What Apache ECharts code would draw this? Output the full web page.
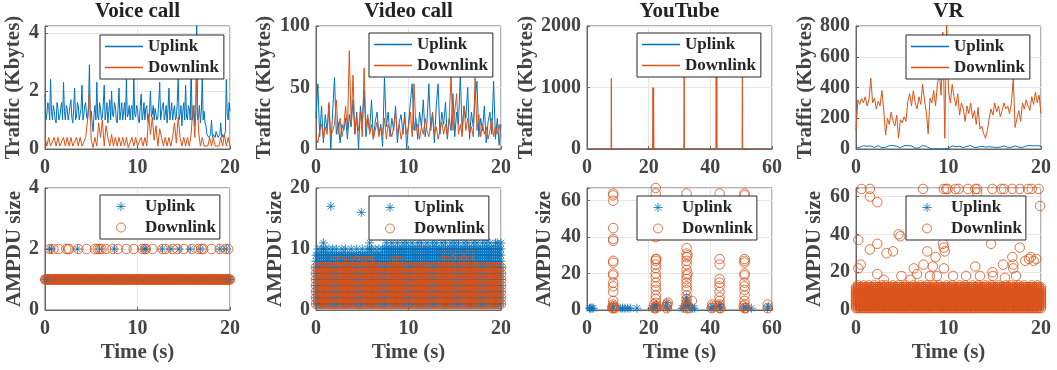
<!DOCTYPE html>
<html>
<head>
<meta charset="utf-8">
<script src="https://cdn.jsdelivr.net/npm/echarts@6/dist/echarts.min.js"></script>
<style>
  html, body { margin: 0; padding: 0; background: #fff; }
  #chart { width: 1057px; height: 370px; }
</style>
</head>
<body>
<div id="chart"></div>
<script>
// ---------------- data ----------------
const panelTitles = ['Voice call', 'Video call', 'YouTube', 'VR'];
const linkNames = ['Uplink', 'Downlink'];

// Traffic (Kbytes), one value per sampling step
const voiceUpStep = 0.1;
const voiceUpTraffic = [
  1.9,1.0,1.2,1.6,1.5,1.0,2.4,1.3,1.0,1.5,1.3,1.0,0.9,1.6,1.4,1.0,1.1,1.4,1.6,1.0,
  2.3,1.3,1.0,1.5,1.4,1.0,1.2,1.5,1.7,1.1,0.9,1.4,2.1,1.0,1.1,1.6,1.5,1.0,1.0,1.4,
  2.2,1.0,1.2,1.5,1.6,1.1,1.0,1.4,2.9,1.0,1.3,0.9,0.6,1.2,1.5,1.0,2.3,1.1,1.0,1.6,
  1.4,1.0,1.1,1.5,2.2,1.0,1.3,1.6,0.9,1.3,1.7,1.0,2.0,1.2,1.1,1.6,1.5,1.0,0.9,1.4,
  2.1,1.0,1.3,1.6,1.0,1.3,1.6,1.0,2.4,1.1,1.2,1.5,1.0,1.4,1.5,1.0,2.5,1.2,1.1,1.5,
  1.4,1.0,0.9,1.5,1.9,1.0,1.2,1.6,1.0,1.4,1.5,1.0,0.9,1.3,2.0,1.1,1.2,1.5,1.0,1.4,
  1.4,1.0,1.1,1.6,2.3,1.0,1.0,1.5,1.6,1.0,1.2,1.5,0.9,1.4,2.1,1.0,1.3,1.6,1.0,1.3,
  1.5,1.0,1.1,1.6,2.5,1.0,1.2,1.5,0.8,1.3,1.6,1.0,2.2,1.1,1.0,1.5,1.4,1.0,2.9,1.0,
  1.2,1.5,0.8,1.2,4.3,1.0,1.1,1.5,0.9,1.3,2.5,1.0,1.3,0.9,0.8,0.5,0.5,0.4,0.4,0.5,
  1.0,0.4,0.5,0.5,0.4,0.6,0.6,0.4,0.4,0.5,0.9,0.4,0.5,0.4,0.4,0.6,2.4,1.2,1.0,1.6,
  1.3
];
const trafficStep = 0.2;
const voiceDownTraffic = [
  0.4,0.1,0.4,0.1,0.1,0.4,0.1,0.4,0.1,0.1,
  0.4,0.1,0.4,0.1,0.4,0.1,0.1,0.4,0.1,0.4,
  0.1,0.05,0.4,1.0,2.0,0.3,0.05,0.4,0.1,0.9,
  0.4,1.0,0.1,0.8,0.4,0.1,0.5,0.1,0.4,0.1,
  0.4,0.1,0.4,0.1,0.4,0.05,0.1,0.4,0.1,0.4,
  0.1,0.05,0.4,0.1,0.4,0.1,1.2,0.5,1.1,0.3,
  0.8,0.1,0.7,0.4,0.1,0.4,0.1,0.4,0.1,0.4,
  0.9,0.2,1.1,0.4,0.1,0.4,0.1,0.4,0.1,0.5,
  1.5,0.4,2.4,0.6,0.1,0.4,0.1,0.05,0.1,0.4,
  0.1,0.4,0.1,0.05,0.1,0.4,0.1,0.5,0.1,0.4,
  0.1
];
const videoUpTraffic = [
  25,53,10,35,5,28,15,36,0,30,
  58,12,22,5,20,15,25,8,28,18,
  40,12,30,0,35,20,48,10,25,15,
  40,8,22,30,12,20,2,58,18,30,
  10,25,15,35,5,22,28,12,30,0,
  20,38,53,15,25,8,30,18,40,10,
  22,53,15,28,5,35,53,12,30,20,
  38,8,25,15,45,10,30,20,60,15,
  35,25,50,8,30,18,40,55,10,25,
  15,35,5,22,30,12,55,8,25,3,
  20
];
const videoDownTraffic = [
  10,5,15,20,8,18,12,38,10,15,
  20,40,12,25,10,18,35,15,80,20,
  60,12,25,15,30,10,66,18,28,12,
  20,8,15,22,10,18,12,25,8,20,
  15,10,18,30,12,20,8,15,25,12,
  18,30,10,53,15,20,8,18,12,25,
  15,10,20,30,12,18,8,15,22,12,
  20,10,25,60,15,30,45,12,20,10,
  35,15,25,12,18,10,58,15,28,10,
  20,12,18,8,15,25,10,18,12,20,
  10
];
const vrUpTraffic = [
  5,3,10,20,22,20,18,22,20,15,
  10,18,22,20,8,5,10,18,22,20,
  22,20,18,10,8,20,22,20,22,18,
  20,10,5,3,8,20,22,20,18,5,
  3,2,0,0,2,0,0,3,2,0,
  3,12,20,18,15,20,18,10,8,12,
  18,20,22,18,10,8,12,15,18,20,
  12,10,15,8,12,18,10,15,12,18,
  20,15,10,18,12,15,20,18,12,15,
  10,18,20,15,22,18,20,25,22,20,
  18
];
const vrDownTraffic = [
  120,320,290,330,300,340,280,320,460,300,
  330,260,310,280,380,250,90,200,160,240,
  180,150,220,70,190,170,210,180,310,360,
  280,380,300,260,340,290,420,320,240,100,
  330,300,380,280,420,500,350,760,70,820,
  380,300,420,340,280,360,220,300,260,180,
  280,230,300,200,250,160,270,130,150,100,
  70,120,200,260,220,300,240,280,210,250,
  300,260,280,230,300,460,140,200,250,180,
  300,260,320,280,250,340,290,370,300,350,
  230
];
// YouTube traffic is idle apart from short bursts
const ytUpTime     = [0, 24.9, 25, 25.1, 60];
const ytUpTraffic  = [0, 0, 20, 0, 0];
const ytDownTime    = [0, 7.8, 7.9, 8.0, 21.3, 21.4, 21.5, 21.6, 21.7, 31.4, 31.5, 31.6, 41.8, 41.9, 42.0, 42.1, 42.2, 50.3, 50.4, 50.5, 60];
const ytDownTraffic = [0, 0, 1150, 0, 0, 1000, 0, 990, 0, 0, 1250, 0, 0, 1300, 0, 1200, 0, 0, 1350, 0, 0];

// AMPDU sizes
// Voice call: size-1 frames in every frame slot, size-2 frames at these times
const voiceFrameStep = 0.1;
const voiceSpan = [0, 20];
const voiceUpSize2Times = [0.5,0.7,3.5,5.9,7.5,10.7,10.9,12.7,13.6,14.5,15.7,16.8,18.9,19.6];
const voiceDownSize2Times = [0.5,0.9,1.5,2.3,2.5,2.6,3.6,4.5,5.4,5.7,5.9,6.1,6.6,7.3,7.9,8.8,9.6,10.5,10.8,10.9,11.6,12.7,13.0,13.8,14.3,15.0,15.9,16.6,16.9,17.1,18.0,18.9,19.5,19.8];

// Video call / VR: every size from 1 up to the largest one seen in each slot
const ampduStep = 0.2;
const videoUpLargest = [
  9,10,9,10,11,10,9,10,9,10,
  9,10,9,9,10,9,10,9,9,10,
  9,9,10,9,9,10,9,9,10,11,
  10,9,10,9,10,9,10,10,11,10,
  10,11,10,10,11,10,10,11,10,11,
  10,10,11,10,10,11,10,11,10,10,
  11,10,10,11,10,11,10,10,11,10,
  11,10,10,11,10,11,10,11,10,10,
  11,10,11,10,10,11,10,11,10,10,
  11,10,11,10,11,10,10,11,11,10,
  11
];
const videoDownLargest = [
  7,7,7,7,7,7,7,7,7,7,
  8,7,7,8,8,7,7,7,7,7,
  8,7,8,8,7,8,7,8,8,8,
  7,7,7,7,7,7,7,7,7,7,
  7,7,8,7,8,7,8,7,7,7,
  7,7,7,7,7,7,7,7,7,7,
  7,7,7,7,7,7,7,7,7,8,
  7,9,7,7,7,7,7,9,7,7,
  8,7,7,9,7,7,7,7,7,7,
  7,7,7,7,7,7,7,7,7,7,
  7
];
const videoUpRareTime = [1.6, 4.9];
const videoUpRareSize = [17, 16];

const vrDownLargest = [
  12,13,12,12,13,12,12,13,12,12,
  13,12,12,12,13,12,13,12,12,12,
  13,12,12,13,12,12,12,13,12,12,
  12,13,12,12,12,13,12,12,13,12,
  12,12,13,12,12,13,12,12,12,13,
  12,12,13,12,12,12,13,12,12,13,
  12,12,12,13,12,12,13,12,12,12,
  13,12,12,13,12,12,12,13,12,12,
  12,13,12,12,13,12,12,12,13,12,
  12,13,12,12,12,13,12,12,13,12,
  12
];
const vrDownRareTime = [0.6,1.5,1.5,2.3,0.25,1.5,2.3,3.3,4.0,4.6,4.8,4.9,0.5,0.25,2.3,6.25,6.6,7.3,7.7,8.3,8.6,9.4,9.5,9.6,9.5,7.25,9.5,9.75,9.9,10.75,11.1,12.1,12.9,13.1,13.1,14.75,15.7,16.0,16.9,17.7,18.6,19.0,19.75,19.9,12.9,14.6,14.75,14.8,15.9,16.9,17.0,17.0,17.7,18.3,18.7,18.9,19.2,19.5,17.3,16.1,11.9,10.5,13.4,8.0,5.9,3.0,8.75];
const vrDownRareSize = [64,64,60,57,37,32,35,30,31,40,39,18,24,22,19,22,19,24,31,23,28,35,33,31,22,64,64,64,64,64,64,64,64,64,62,64,64,64,64,64,64,64,64,55,23,35,20,18,24,28,24,22,33,26,27,28,26,27,18,17,18,18,18,18,16,16,18];
const vrUpTime = [0.4,1.8,3.1,4.7,6.2,7.9,9.3,10.8,12.4,13.9,15.5,17.0,18.6,19.7];
const vrUpSize = [1,2,1,1,2,1,1,2,1,1,2,1,1,2];

// YouTube: [time (s), AMPDU size]
const ytUpAmpdu = [
  [0.8,1],[1.2,1],[1.6,1],[2.0,1],[8.3,1],[8.6,2],[10.8,1],[11.5,1],[12.3,1],[13.2,1],[14,1],[16.2,1],
  [21.0,1],[21.5,1],[22.0,2],[22.5,3],[22.8,1],[25.5,2],[25.9,4],[26.2,1],
  [30.8,1],[31.3,1],[31.8,2],[32.1,5],[32.3,7],[32.5,4],[32.8,3],[33.2,2],[33.7,1],[34.2,1],[34.8,1],
  [40.2,1],[40.8,2],[41.2,1],[42.8,2],[43.1,3],[43.4,1],[50.8,1],[51.3,2],[52.0,1],[53.3,1],[58.5,1],[58.8,2]
];
const ytDownAmpdu = [
  [8.5,64],[8.5,63],[8.5,60],[8.5,45],[8.5,39],[8.5,38],[8.5,27],[8.5,26],[8.5,20],[8.5,19],[8.5,15],[8.5,13],[8.5,10],[8.5,5],[8.5,3],[8.5,1],[8.2,1],[8.8,2],[9.0,1],[8.3,2],
  [22.3,67],[22.3,64],[22.3,44],[22.3,40],[22.3,28],[22.3,27],[22.3,25],[22.3,23],[22.3,20],[22.3,18],[22.3,15],[22.3,13],[22.3,11],[22.3,8],[22.3,6],[22.3,4],[22.3,2],[22.3,1],[22.0,1],[22.6,2],[21.8,3],[22.5,28],
  [25.8,1],[26.0,3],[26.2,4],[25.9,2],
  [32.3,64],[32.3,34],[32.3,31],[32.3,29],[32.3,27],[32.3,25],[32.3,22],[32.3,19],[32.3,17],[32.3,15],[32.3,13],[32.3,11],[32.3,8],[32.3,6],[32.3,4],[32.3,2],[32.3,1],[32.6,30],[32.6,20],[32.0,2],[34.0,5],[33.0,1],
  [40.5,1],[40.8,2],[40.6,3],
  [43.0,64],[43.0,28],[43.0,25],[43.0,17],[43.0,15],[43.0,13],[43.0,10],[43.0,7],[43.0,5],[43.0,3],[43.0,1],[42.7,2],[43.3,1],
  [51.1,64],[51.1,63],[51.1,28],[51.1,27],[51.1,26],[51.1,20],[51.1,19],[51.1,15],[51.1,13],[51.1,11],[51.1,8],[51.1,5],[51.1,3],[51.1,1],[50.8,2],[51.4,1],
  [58.6,3],[58.6,1]
];

// ---------------- helpers ----------------
const round3 = v => Math.round(v * 1000) / 1000;
const sampled = (values, step) => values.map((v, i) => [round3(i * step), v]);
const paired = (times, values) => times.map((t, i) => [t, values[i]]);
const atSize = (times, size) => times.map(t => [t, size]);
const slotTimes = (span, step) => {
  const out = [];
  for (let i = 0; round3(span[0] + i * step) <= span[1]; i++) out.push(round3(span[0] + i * step));
  return out;
};
const upToLargest = (largest, step) => {
  const pts = [];
  largest.forEach((top, i) => { for (let s = 1; s <= top; s++) pts.push([round3(i * step), s]); });
  return pts;
};

// ---------------- layout & style ----------------
const UP_COLOR = '#0072BD';
const DOWN_COLOR = '#D95319';
const FONT = "'Liberation Serif', 'Times New Roman', serif";
const STAR = 'path://M5,0L5,10M0,5L10,5M1.5,1.5L8.5,8.5M1.5,8.5L8.5,1.5';

const layout = {
  colLeft: [45, 316, 587, 856],
  width: 185,
  rowTop: [26, 188],
  rowHeight: [123, 122]
};
const axisSpec = [
  { xMax: 20, xInt: 10, yMax: 4.24, yInt: 2,    yGap: 21 },
  { xMax: 20, xInt: 10, yMax: 100,  yInt: 50,   yGap: 41 },
  { xMax: 60, xInt: 20, yMax: 2000, yInt: 1000, yGap: 50 },
  { xMax: 20, xInt: 10, yMax: 800,  yInt: 200,  yGap: 40 },
  { xMax: 20, xInt: 10, yMax: 4,    yInt: 2,    yGap: 18 },
  { xMax: 20, xInt: 10, yMax: 20,   yInt: 10,   yGap: 22 },
  { xMax: 60, xInt: 20, yMax: 67,   yInt: 20,   yGap: 32 },
  { xMax: 20, xInt: 10, yMax: 64.5, yInt: 20,   yGap: 31 }
];
const legendPos = [[100,35],[369,33],[637,33],[906,35],[100,195],[369,196],[637,196],[906,196]];

const tickText = { fontFamily: FONT, fontWeight: 'bold', fontSize: 20, color: '#444' };
const nameText = { fontFamily: FONT, fontWeight: 'bold', fontSize: 21, color: '#444' };
const onTick = interval => v => (Math.abs(v / interval - Math.round(v / interval)) < 1e-6 ? String(v) : '');

const grids = [], xAxes = [], yAxes = [], legends = [], series = [];
for (let p = 0; p < 8; p++) {
  const row = p < 4 ? 0 : 1, col = p % 4, s = axisSpec[p];
  grids.push({
    left: layout.colLeft[col], top: layout.rowTop[row],
    width: layout.width, height: layout.rowHeight[row],
    show: true, borderColor: '#666', borderWidth: 1, backgroundColor: '#fff'
  });
  xAxes.push({
    gridIndex: p, type: 'value', min: 0, max: s.xMax, interval: s.xInt,
    axisLine: { show: true, onZero: false, lineStyle: { color: '#666', width: 1 } },
    axisTick: { show: true, inside: true, length: 3, lineStyle: { color: '#666' } },
    splitLine: { show: true, lineStyle: { color: '#e6e6e6', width: 1 } },
    axisLabel: Object.assign({ margin: 9, formatter: onTick(s.xInt) }, tickText),
    name: row ? 'Time (s)' : '', nameLocation: 'middle', nameGap: 32, nameTextStyle: nameText
  });
  yAxes.push({
    gridIndex: p, type: 'value', min: 0, max: s.yMax, interval: s.yInt,
    axisLine: { show: true, onZero: false, lineStyle: { color: '#666', width: 1 } },
    axisTick: { show: true, inside: true, length: 3, lineStyle: { color: '#666' } },
    splitLine: { show: true, lineStyle: { color: '#e6e6e6', width: 1 } },
    axisLabel: Object.assign({ margin: 6, formatter: onTick(s.yInt) }, tickText),
    name: row ? 'AMPDU size' : 'Traffic (Kbytes)', nameLocation: 'middle', nameGap: s.yGap, nameTextStyle: nameText
  });
  const isLine = row === 0;
  const legend = {
    left: legendPos[p][0], top: legendPos[p][1], orient: 'vertical',
    itemWidth: 38, itemHeight: isLine ? 1.6 : 9, itemGap: 0,
    padding: isLine ? [1, 5, 1, 5] : [1, 4, 1, 16],
    backgroundColor: '#fff', borderColor: '#262626', borderWidth: 1, borderRadius: 0,
    selectedMode: false,
    data: linkNames.map(n => isLine ? { name: n + '#' + p, icon: 'rect' } : n + '#' + p),
    formatter: n => n.split('#')[0],
    textStyle: { fontFamily: FONT, fontWeight: 'bold', fontSize: 17, color: '#262626', lineHeight: 21 },
    z: 10
  };
  if (!isLine) legend.itemStyle = { borderWidth: 1 };
  legends.push(legend);
}

function lineSeries(linkIdx, p, data) {
  const color = linkIdx ? DOWN_COLOR : UP_COLOR;
  return {
    type: 'line', name: linkNames[linkIdx] + '#' + p, xAxisIndex: p, yAxisIndex: p, data,
    symbol: 'none', showSymbol: false, clip: true, silent: true,
    lineStyle: { color, width: 1 }, itemStyle: { color }
  };
}
function scatterSeries(linkIdx, p, data) {
  const up = linkIdx === 0;
  return {
    type: 'scatter', name: linkNames[linkIdx] + '#' + p, xAxisIndex: p, yAxisIndex: p, data,
    symbol: up ? STAR : 'circle', symbolSize: up ? 9 : 9.5, symbolKeepAspect: true,
    itemStyle: { color: 'rgba(0,0,0,0)', borderColor: up ? UP_COLOR : DOWN_COLOR, borderWidth: 1 },
    progressive: 0, large: false, silent: true
  };
}

// traffic (top row)
series.push(lineSeries(0, 0, sampled(voiceUpTraffic, voiceUpStep)));
series.push(lineSeries(1, 0, sampled(voiceDownTraffic, trafficStep)));
series.push(lineSeries(0, 1, sampled(videoUpTraffic, trafficStep)));
series.push(lineSeries(1, 1, sampled(videoDownTraffic, trafficStep)));
series.push(lineSeries(0, 2, paired(ytUpTime, ytUpTraffic)));
series.push(lineSeries(1, 2, paired(ytDownTime, ytDownTraffic)));
series.push(lineSeries(0, 3, sampled(vrUpTraffic, trafficStep)));
series.push(lineSeries(1, 3, sampled(vrDownTraffic, trafficStep)));

// AMPDU size (bottom row)
const voiceSlots = slotTimes(voiceSpan, voiceFrameStep);
series.push(scatterSeries(0, 4, atSize(voiceSlots, 1).concat(atSize(voiceUpSize2Times, 2))));
series.push(scatterSeries(1, 4, atSize(voiceSlots, 1).concat(atSize(voiceDownSize2Times, 2))));
series.push(scatterSeries(0, 5, upToLargest(videoUpLargest, ampduStep).concat(paired(videoUpRareTime, videoUpRareSize))));
series.push(scatterSeries(1, 5, upToLargest(videoDownLargest, ampduStep)));
series.push(scatterSeries(0, 6, ytUpAmpdu));
series.push(scatterSeries(1, 6, ytDownAmpdu));
series.push(scatterSeries(0, 7, paired(vrUpTime, vrUpSize)));
series.push(scatterSeries(1, 7, upToLargest(vrDownLargest, ampduStep).concat(paired(vrDownRareTime, vrDownRareSize))));

const titles = panelTitles.map((text, i) => ({
  text, left: layout.colLeft[i] + layout.width / 2, top: 1, textAlign: 'center', padding: 0,
  textStyle: { fontFamily: FONT, fontWeight: 'bold', fontSize: 21, color: '#222' }
}));

const chart = echarts.init(document.getElementById('chart'), null, { renderer: 'canvas' });
chart.setOption({
  animation: false,
  backgroundColor: '#fff',
  title: titles,
  grid: grids,
  xAxis: xAxes,
  yAxis: yAxes,
  legend: legends,
  tooltip: { show: false },
  series
});
</script>
</body>
</html>
